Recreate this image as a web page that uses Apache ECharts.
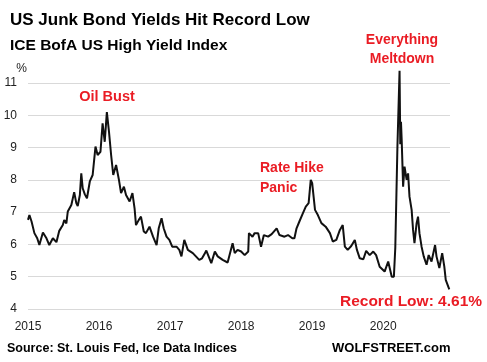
<!DOCTYPE html>
<html>
<head>
<meta charset="utf-8">
<script src="https://cdn.jsdelivr.net/npm/echarts@6/dist/echarts.min.js"></script>
<style>
html,body{margin:0;padding:0;background:#fff;}
#chart{width:487px;height:362px;}
</style>
</head>
<body>
<div id="chart"></div>
<script>
// Time in decimal years
const years = [
2015.00,2015.02,2015.05,2015.06,2015.09,2015.13,2015.16,2015.21,2015.26,2015.30,
2015.35,2015.40,2015.42,2015.44,2015.49,2015.51,2015.54,2015.56,2015.61,2015.65,
2015.68,2015.70,2015.73,2015.75,2015.77,2015.80,2015.83,2015.87,2015.91,2015.95,
2015.98,2016.02,2016.05,2016.08,2016.11,2016.14,2016.17,2016.20,2016.24,2016.28,
2016.31,2016.35,2016.38,2016.43,2016.47,2016.50,2016.52,2016.56,2016.59,2016.63,
2016.66,2016.71,2016.76,2016.81,2016.84,2016.88,2016.91,2016.95,2016.99,2017.03,
2017.09,2017.13,2017.16,2017.20,2017.25,2017.32,2017.41,2017.45,2017.49,2017.51,
2017.58,2017.63,2017.67,2017.74,2017.81,2017.88,2017.91,2017.95,2018.00,2018.05,
2018.10,2018.11,2018.16,2018.19,2018.24,2018.28,2018.32,2018.38,2018.43,2018.50,
2018.54,2018.61,2018.66,2018.72,2018.75,2018.78,2018.82,2018.87,2018.91,2018.95,
2018.98,2019.00,2019.04,2019.08,2019.13,2019.19,2019.25,2019.29,2019.34,2019.39,
2019.43,2019.46,2019.50,2019.55,2019.60,2019.63,2019.67,2019.72,2019.76,2019.81,
2019.86,2019.90,2019.95,2020.02,2020.07,2020.12,2020.15,2020.17,2020.20,2020.23,
2020.24,2020.25,2020.26,2020.28,2020.30,2020.33,2020.35,2020.37,2020.40,2020.42,
2020.44,2020.47,2020.49,2020.51,2020.54,2020.57,2020.61,2020.64,2020.68,2020.73,
2020.75,2020.79,2020.83,2020.86,2020.88,2020.90,2020.93
];
// ICE BofA US High Yield Index, effective yield %
const yields = [
6.76,6.91,6.71,6.72,6.35,6.19,5.98,6.37,6.19,5.98,
6.19,6.07,6.10,6.42,6.60,6.76,6.65,7.02,7.22,7.62,
7.28,7.19,7.53,8.20,7.74,7.55,7.43,7.95,8.15,9.03,
8.77,8.87,9.75,9.18,10.10,9.49,8.77,8.15,8.46,8.00,
7.59,7.79,7.53,7.33,7.59,7.12,6.60,6.76,6.86,6.40,
6.35,6.55,6.24,5.98,6.50,6.81,6.50,6.24,6.14,5.93,
5.93,5.83,5.63,6.14,5.83,5.73,5.52,5.57,5.73,5.81,
5.42,5.78,5.63,5.52,5.44,6.04,5.73,5.83,5.78,5.67,
5.78,6.35,6.24,6.35,6.35,5.93,6.29,6.24,6.32,6.50,
6.29,6.24,6.29,6.19,6.19,6.50,6.71,6.97,7.17,7.28,
8.00,7.90,7.07,6.91,6.66,6.55,6.35,6.09,6.14,6.45,
6.60,5.93,5.83,5.95,6.14,5.83,5.57,5.54,5.80,5.67,
5.78,5.67,5.31,5.16,5.47,5.00,5.00,5.90,9.03,11.38,
9.10,9.80,9.23,7.79,8.41,8.00,8.20,7.48,7.07,6.45,
6.04,6.66,6.86,6.35,5.93,5.63,5.37,5.67,5.47,5.98,
5.63,5.27,5.73,5.31,4.90,4.85,4.61
];
const yTicks = [4,5,6,7,8,9,10,11];
const xTickYears = [2015,2016,2017,2018,2019,2020];

const seriesData = years.map((t, i) => [t, yields[i]]);
const RED = '#ea1c24';
const FONT = '"Liberation Sans", Arial, sans-serif';

const chart = echarts.init(document.getElementById('chart'), null, {renderer: 'canvas'});
chart.setOption({
  animation: false,
  backgroundColor: '#ffffff',
  grid: {left: 28, right: 37, top: 83, bottom: 53, containLabel: false},
  xAxis: {
    type: 'value',
    min: xTickYears[0],
    max: 2020.94,
    interval: 1,
    axisLine: {show: false},
    axisTick: {show: false},
    splitLine: {show: false},
    axisLabel: {
      margin: 12,
      fontFamily: FONT, fontSize: 12, color: '#222',
      formatter: v => (xTickYears.indexOf(Math.round(v)) >= 0 && Math.abs(v - Math.round(v)) < 1e-6) ? String(Math.round(v)) : ''
    }
  },
  yAxis: {
    type: 'value',
    min: yTicks[0],
    max: yTicks[yTicks.length - 1],
    interval: 1,
    axisLine: {show: false},
    axisTick: {show: false},
    splitLine: {show: true, lineStyle: {color: '#d9d9d9', width: 1}},
    axisLabel: {margin: 11, fontFamily: FONT, fontSize: 12, color: '#222'}
  },
  series: [{
    type: 'line',
    data: seriesData,
    showSymbol: false,
    symbol: 'none',
    clip: false,
    lineStyle: {color: '#111', width: 2},
    z: 3
  }],
  graphic: [
    {type: 'text', left: 10, top: 12, style: {text: 'US Junk Bond Yields Hit Record Low', font: 'bold 17px ' + FONT, fill: '#000'}},
    {type: 'text', left: 10, top: 38, style: {text: 'ICE BofA US High Yield Index', font: 'bold 15.5px ' + FONT, fill: '#000'}},
    {type: 'text', x: 21.5, y: 68.5, style: {text: '%', font: '12px ' + FONT, fill: '#222', textAlign: 'center', textVerticalAlign: 'middle'}},
    {type: 'text', x: 107, y: 97, style: {text: 'Oil Bust', font: 'bold 14.5px ' + FONT, fill: RED, textAlign: 'center', textVerticalAlign: 'middle'}},
    {type: 'text', x: 260, y: 168, style: {text: 'Rate Hike', font: 'bold 14px ' + FONT, fill: RED, textAlign: 'left', textVerticalAlign: 'middle'}},
    {type: 'text', x: 260, y: 188, style: {text: 'Panic', font: 'bold 14px ' + FONT, fill: RED, textAlign: 'left', textVerticalAlign: 'middle'}},
    {type: 'text', x: 402, y: 40.5, style: {text: 'Everything', font: 'bold 14px ' + FONT, fill: RED, textAlign: 'center', textVerticalAlign: 'middle'}},
    {type: 'text', x: 402, y: 59.5, style: {text: 'Meltdown', font: 'bold 14px ' + FONT, fill: RED, textAlign: 'center', textVerticalAlign: 'middle'}},
    {type: 'text', x: 411, y: 302, style: {text: 'Record Low: 4.61%', font: 'bold 15.5px ' + FONT, fill: RED, textAlign: 'center', textVerticalAlign: 'middle'}},
    {type: 'text', x: 7, y: 349, style: {text: 'Source: St. Louis Fed, Ice Data Indices', font: 'bold 12.5px ' + FONT, fill: '#000', textAlign: 'left', textVerticalAlign: 'middle'}},
    {type: 'text', x: 332, y: 348, style: {text: 'WOLFSTREET.com', font: 'bold 13px ' + FONT, fill: '#000', textAlign: 'left', textVerticalAlign: 'middle'}}
  ]
});
</script>
</body>
</html>
